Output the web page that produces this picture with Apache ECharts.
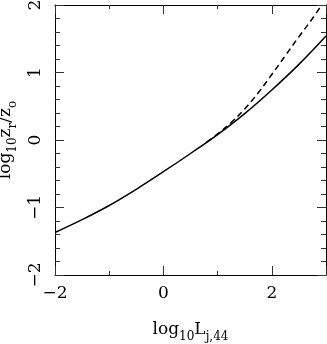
<!DOCTYPE html>
<html><head><meta charset="utf-8">
<script src="https://cdn.jsdelivr.net/npm/echarts@6/dist/echarts.min.js"></script>
<style>html,body{margin:0;padding:0;background:#fff}#c{width:327px;height:344px}</style>
</head><body><div id="c"></div>
<script>
const xSolid = [-2, -1.5, -1, -0.5, 0, 0.5, 1, 1.5, 2, 2.5, 3];
const ySolid = [-1.37, -1.18, -0.97, -0.73, -0.47, -0.2, 0.08, 0.39, 0.74, 1.12, 1.54];
const xDash = [0.8, 1, 1.25, 1.5, 1.75, 2, 2.25, 2.5, 2.75, 2.92];
const yDash = [-0.03, 0.09, 0.26, 0.46, 0.7, 0.97, 1.25, 1.53, 1.8, 2.0];
const xTicks = [-2, 0, 2];
const yTicks = [-2, -1, 0, 1, 2];

const FONT = 'DejaVu Serif';
const fmt = v => (v < 0 ? '\u2212' : '') + Math.abs(v);
const axisLine = {show: true, onZero: false, lineStyle: {color: '#000', width: 1}};
const tickStyle = {color: '#333', width: 1};

function xAx(pos, labels) {
  return {
    type: 'value', position: pos, min: -2, max: 3, interval: 2,
    axisLine: axisLine,
    axisTick: {show: true, inside: true, length: 9, lineStyle: tickStyle},
    minorTick: {show: true, splitNumber: 2, length: 4, lineStyle: tickStyle},
    splitLine: {show: false},
    axisLabel: labels ? {
      show: true, margin: 10, fontFamily: FONT, fontSize: 17, color: '#000',
      formatter: v => xTicks.includes(v) ? fmt(v) : '', showMaxLabel: false
    } : {show: false},
    name: labels ? '{a|log}{s|10}{a|L}{s|j,44}' : '',
    nameLocation: 'middle', nameGap: 44,
    nameTextStyle: {
      rich: {
        a: {fontFamily: FONT, fontSize: 17, color: '#000', verticalAlign: 'bottom', lineHeight: 24, padding: [0, 0, 5, 0]},
        s: {fontFamily: FONT, fontSize: 12, color: '#000', verticalAlign: 'bottom', lineHeight: 24}
      }
    }
  };
}
function yAx(pos, labels) {
  return {
    type: 'value', position: pos, min: -2, max: 2, interval: 1,
    axisLine: axisLine,
    axisTick: {show: true, inside: true, length: 9, lineStyle: tickStyle},
    minorTick: {show: true, splitNumber: 5, length: 5, lineStyle: tickStyle},
    splitLine: {show: false},
    axisLabel: labels ? {
      show: true, margin: 11, rotate: 90, fontFamily: FONT, fontSize: 17, color: '#000',
      formatter: v => yTicks.includes(v) ? fmt(v) : ''
    } : {show: false},
    name: labels ? '{a|log}{s|10}{a|z}{s|r}{a|/z}{s|o}' : '',
    nameLocation: 'middle', nameGap: 25,
    nameTextStyle: {
      rich: {
        a: {fontFamily: FONT, fontSize: 17, color: '#000', verticalAlign: 'bottom', lineHeight: 24, padding: [0, 0, 5, 0]},
        s: {fontFamily: FONT, fontSize: 12, color: '#000', verticalAlign: 'bottom', lineHeight: 24}
      }
    }
  };
}

const chart = echarts.init(document.getElementById('c'), null, {renderer: 'canvas'});
chart.setOption({
  animation: false,
  backgroundColor: '#fff',
  grid: {left: 55, right: 1, top: 5, bottom: 69, containLabel: false, outerBoundsMode: 'none'},
  xAxis: [xAx('bottom', true), xAx('top', false)],
  yAxis: [yAx('left', true), yAx('right', false)],
  series: [
    {type: 'line', xAxisIndex: 0, yAxisIndex: 0, data: xSolid.map((x, i) => [x, ySolid[i]]),
     smooth: 0.4, showSymbol: false, lineStyle: {color: '#000', width: 1.5}},
    {type: 'line', xAxisIndex: 0, yAxisIndex: 0, data: xDash.map((x, i) => [x, yDash[i]]),
     smooth: 0.4, showSymbol: false, lineStyle: {color: '#000', width: 1.5, type: [6, 4]}}
  ]
});
</script></body></html>
